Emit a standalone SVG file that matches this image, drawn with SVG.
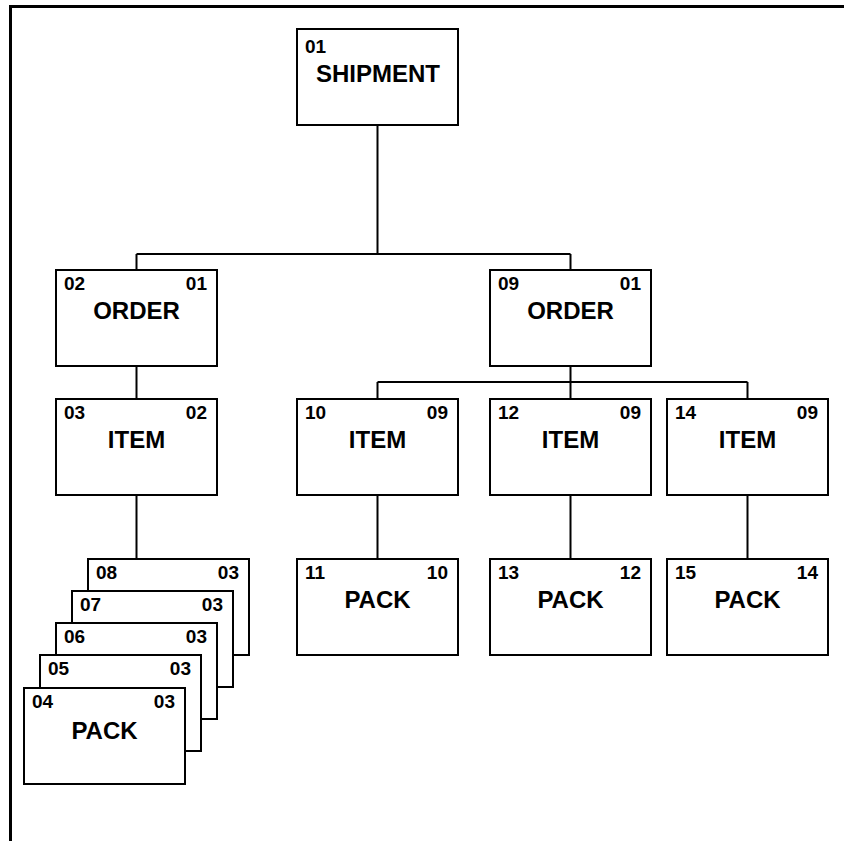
<svg xmlns="http://www.w3.org/2000/svg" width="844" height="841" viewBox="0 0 844 841">
<style>
.box{fill:#fff;stroke:#000;stroke-width:2}
.num{font-family:"Liberation Sans",Arial,sans-serif;font-weight:bold;font-size:19px;fill:#000}
.r{text-anchor:end}
.name{font-family:"Liberation Sans",Arial,sans-serif;font-weight:bold;font-size:24px;fill:#000;text-anchor:middle}
.conn{fill:none;stroke:#000;stroke-width:2}
</style>
<rect width="844" height="841" fill="#fff"/>
<path d="M9 6.5H844M10.5 5V841" fill="none" stroke="#000" stroke-width="3"/>
<g id="connectors" class="conn">
<path d="M377.5 125V254M136.5 254H570.5M136.5 254V270M570.5 254V270"/>
<path d="M136.5 366V399"/>
<path d="M570.5 366V382M377.5 382H747.5M377.5 382V399M570.5 382V399M747.5 382V399"/>
<path d="M136.5 495V559M377.5 495V559M570.5 495V559M747.5 495V559"/>
</g>
<g id="n01"><rect class="box" x="297" y="29" width="161" height="96"/><text class="num" x="305" y="53">01</text><text class="name" x="378" y="82">SHIPMENT</text></g>
<g id="n02"><rect class="box" x="56" y="270" width="161" height="96"/><text class="num" x="64" y="290">02</text><text class="num r" x="207" y="290">01</text><text class="name" x="136.5" y="319">ORDER</text></g>
<g id="n09"><rect class="box" x="490" y="270" width="161" height="96"/><text class="num" x="498" y="290">09</text><text class="num r" x="641" y="290">01</text><text class="name" x="570.5" y="319">ORDER</text></g>
<g id="n03"><rect class="box" x="56" y="399" width="161" height="96"/><text class="num" x="64" y="419">03</text><text class="num r" x="207" y="419">02</text><text class="name" x="136.5" y="448">ITEM</text></g>
<g id="n10"><rect class="box" x="297" y="399" width="161" height="96"/><text class="num" x="305" y="419">10</text><text class="num r" x="448" y="419">09</text><text class="name" x="377.5" y="448">ITEM</text></g>
<g id="n12"><rect class="box" x="490" y="399" width="161" height="96"/><text class="num" x="498" y="419">12</text><text class="num r" x="641" y="419">09</text><text class="name" x="570.5" y="448">ITEM</text></g>
<g id="n14"><rect class="box" x="667" y="399" width="161" height="96"/><text class="num" x="675" y="419">14</text><text class="num r" x="818" y="419">09</text><text class="name" x="747.5" y="448">ITEM</text></g>
<g id="n11"><rect class="box" x="297" y="559" width="161" height="96"/><text class="num" x="305" y="579">11</text><text class="num r" x="448" y="579">10</text><text class="name" x="377.5" y="608">PACK</text></g>
<g id="n13"><rect class="box" x="490" y="559" width="161" height="96"/><text class="num" x="498" y="579">13</text><text class="num r" x="641" y="579">12</text><text class="name" x="570.5" y="608">PACK</text></g>
<g id="n15"><rect class="box" x="667" y="559" width="161" height="96"/><text class="num" x="675" y="579">15</text><text class="num r" x="818" y="579">14</text><text class="name" x="747.5" y="608">PACK</text></g>
<g id="n08"><rect class="box" x="88" y="559" width="161" height="96"/><text class="num" x="96" y="579">08</text><text class="num r" x="239" y="579">03</text></g>
<g id="n07"><rect class="box" x="72" y="591" width="161" height="96"/><text class="num" x="80" y="611">07</text><text class="num r" x="223" y="611">03</text></g>
<g id="n06"><rect class="box" x="56" y="623" width="161" height="96"/><text class="num" x="64" y="643">06</text><text class="num r" x="207" y="643">03</text></g>
<g id="n05"><rect class="box" x="40" y="655" width="161" height="96"/><text class="num" x="48" y="675">05</text><text class="num r" x="191" y="675">03</text></g>
<g id="n04"><rect class="box" x="24" y="688" width="161" height="96"/><text class="num" x="32" y="708">04</text><text class="num r" x="175" y="708">03</text><text class="name" x="104.5" y="739">PACK</text></g>
</svg>
